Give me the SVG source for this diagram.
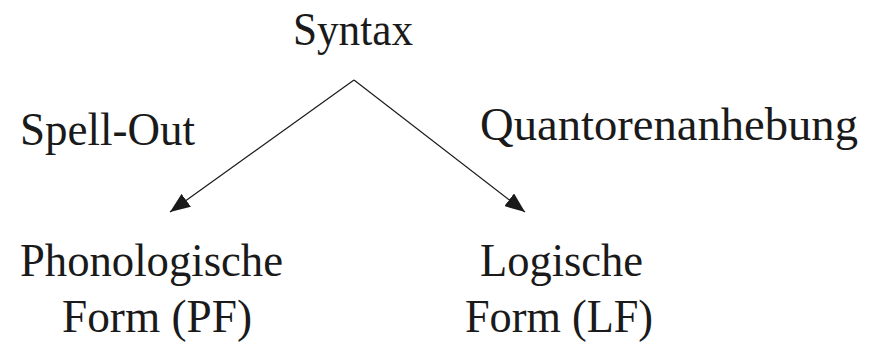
<svg xmlns="http://www.w3.org/2000/svg" width="871" height="343" viewBox="0 0 871 343">
<style>
text{font-family:"Liberation Serif","DejaVu Serif",serif;font-size:46px;fill:#1a1a1a}
.e{stroke:#1a1a1a;stroke-width:1.2;fill:none}
</style>
<defs>
<marker id="ah" markerWidth="20" markerHeight="16" refX="20" refY="8" orient="auto" markerUnits="userSpaceOnUse">
<path d="M0,0 L20,8 L0,16 Z" fill="#1a1a1a"/>
</marker>
</defs>
<rect width="871" height="343" fill="#fff"/>
<g id="syntax"><text x="293" y="45" textLength="120" lengthAdjust="spacingAndGlyphs">Syntax</text></g>
<g id="pf"><text x="20" y="276" textLength="263" lengthAdjust="spacingAndGlyphs">Phonologische</text><text x="62" y="332" textLength="190" lengthAdjust="spacingAndGlyphs">Form (PF)</text></g>
<g id="lf"><text x="480" y="276" textLength="163" lengthAdjust="spacingAndGlyphs">Logische</text><text x="465" y="332" textLength="188" lengthAdjust="spacingAndGlyphs">Form (LF)</text></g>
<g id="connectors">
<line class="e" x1="354" y1="80" x2="170" y2="212" marker-end="url(#ah)"/>
<line class="e" x1="354" y1="80" x2="525" y2="212" marker-end="url(#ah)"/>
<text x="20" y="145" textLength="175" lengthAdjust="spacingAndGlyphs">Spell-Out</text>
<text x="480" y="140" textLength="378" lengthAdjust="spacingAndGlyphs">Quantorenanhebung</text>
</g>
</svg>
